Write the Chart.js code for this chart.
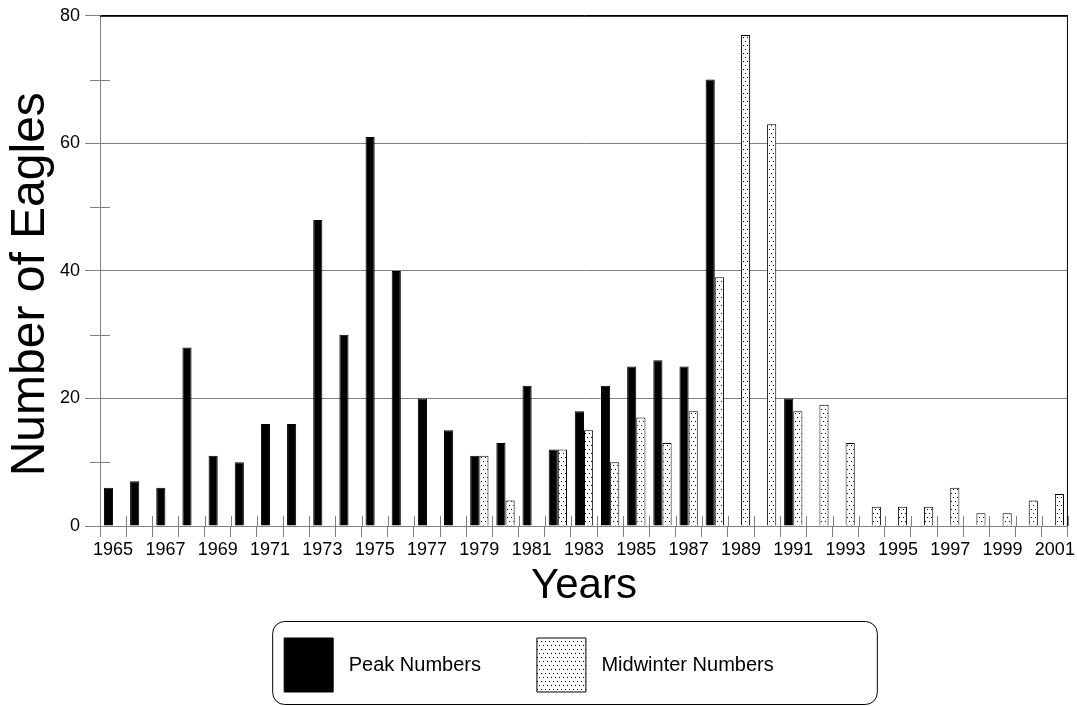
<!DOCTYPE html>
<html><head><meta charset="utf-8">
<script src="https://cdn.jsdelivr.net/npm/chart.js@4/dist/chart.umd.min.js"></script>
<style>html,body{margin:0;padding:0;background:#fff}canvas{display:block}</style>
</head><body>
<canvas id="c" width="1077" height="706"></canvas>
<script>
const years = ['1965','1966','1967','1968','1969','1970','1971','1972','1973','1974','1975','1976','1977','1978','1979','1980','1981','1982','1983','1984','1985','1986','1987','1988','1989','1990','1991','1992','1993','1994','1995','1996','1997','1998','1999','2000','2001'];
const peakNumbers = [6,7,6,28,11,10,16,16,48,30,61,40,20,15,11,13,22,12,18,22,25,26,25,70,null,null,20,null,null,null,null,null,null,null,null,null,null];
const midwinterNumbers = [null,null,null,null,null,null,null,null,null,null,null,null,null,null,11,4,null,12,15,10,17,13,18,39,77,63,18,19,13,3,3,3,6,2,2,4,5];
const seriesNames = ['Peak Numbers','Midwinter Numbers'];
const yLabeledTicks = [0,20,40,60,80];

const canvas = document.getElementById('c');
const mainCtx = canvas.getContext('2d');
function dotPattern(){
  const t = document.createElement('canvas'); t.width = 4; t.height = 8;
  const g = t.getContext('2d');
  g.fillStyle = '#fff'; g.fillRect(0,0,4,8);
  g.fillStyle = '#000'; g.fillRect(1,1,1,1); g.fillRect(3,5,1,1);
  return mainCtx.createPattern(t,'repeat');
}
const dots = dotPattern();
const GRID = '#808080';
const FONT = '"Liberation Sans", Arial, Helvetica, sans-serif';
Chart.defaults.font.family = FONT;

const decor = {
  id: 'decor',
  afterDraw(chart){
    const {ctx, chartArea: a, scales: {x, y}} = chart;
    ctx.save();
    ctx.lineWidth = 1;
    ctx.strokeStyle = GRID;
    ctx.beginPath();
    for (let v = 10; v < 80; v += 20){
      const py = Math.round(y.getPixelForValue(v)) + 0.5;
      ctx.moveTo(a.left - 10, py); ctx.lineTo(a.left + 10, py);
    }
    for (let i = 0; i <= years.length; i++){
      const px = Math.round(x.getPixelForValue(i - 0.5)) + 0.5;
      ctx.moveTo(px, a.bottom - 10); ctx.lineTo(px, a.bottom);
    }
    ctx.stroke();
    ctx.strokeStyle = '#000';
    ctx.beginPath();
    ctx.moveTo(a.left, a.top + 0.5); ctx.lineTo(a.right, a.top + 0.5);
    ctx.moveTo(a.right - 0.5, a.top); ctx.lineTo(a.right - 0.5, a.bottom);
    ctx.stroke();
    const lg = chart.legend;
    if (lg && lg.legendHitBoxes && lg.legendHitBoxes.length){
      const hb = lg.legendHitBoxes;
      const l = hb[0].left - 12 + 0.5;
      const r = hb[hb.length-1].left + hb[hb.length-1].width + 92 + 0.5;
      const t = lg.top + 0.5, b = lg.bottom + 2.5;
      ctx.strokeStyle = '#000';
      ctx.beginPath();
      ctx.roundRect(l, t, r - l, b - t, 12);
      ctx.stroke();
    }
    ctx.restore();
  }
};

new Chart(canvas, {
  type: 'bar',
  data: {
    labels: years,
    datasets: [
      {label: seriesNames[0], data: peakNumbers, backgroundColor: '#000', borderColor: '#000', borderWidth: 1},
      {label: seriesNames[1], data: midwinterNumbers, backgroundColor: dots, borderColor: '#000', borderWidth: 1}
    ]
  },
  options: {
    responsive: false,
    animation: false,
    devicePixelRatio: 1,
    datasets: {bar: {categoryPercentage: 0.7, barPercentage: 1.0}},
    layout: {padding: {top: 15, right: 8, bottom: 4, left: 0}},
    plugins: {
      tooltip: {enabled: false},
      legend: {
        position: 'bottom',
        labels: {
          boxWidth: 49, boxHeight: 54, padding: 17, color: '#000',
          font: {size: 20},
          generateLabels(chart){
            const items = Chart.defaults.plugins.legend.labels.generateLabels(chart);
            const trail = [7, 2];
            items.forEach((it, i) => { it.text = ' ' + seriesNames[i] + ' '.repeat(trail[i]); });
            return items;
          }
        }
      }
    },
    scales: {
      x: {
        grid: {offset: true, drawOnChartArea: false, color: GRID, tickLength: 11, tickColor: GRID},
        border: {display: true, color: GRID},
        ticks: {
          autoSkip: false, maxRotation: 0, minRotation: 0, padding: 2, color: '#000',
          font: {size: 18},
          callback(v, i){ return i % 2 === 0 ? this.getLabelForValue(v) : ''; }
        },
        title: {display: true, text: 'Years', color: '#000', font: {size: 42}, padding: {top: 0, bottom: 9}},
        afterFit(s){ s.height = 95; }
      },
      y: {
        min: 0, max: 80,
        ticks: {
          stepSize: 10, padding: 5, color: '#000', font: {size: 18},
          callback(v){ return yLabeledTicks.includes(v) ? String(v) : ''; }
        },
        grid: {
          color(c){ const v = c.tick ? c.tick.value : 0; if (v === 80) return '#000'; return yLabeledTicks.includes(v) ? GRID : 'rgba(0,0,0,0)'; },
          tickLength: 15,
          tickColor(c){ const v = c.tick ? c.tick.value : 0; return yLabeledTicks.includes(v) ? GRID : 'rgba(0,0,0,0)'; }
        },
        border: {display: true, color: GRID},
        title: {display: true, text: 'Number of Eagles  ', color: '#000', font: {size: 48}, padding: {top: 2, bottom: 0}},
        afterFit(s){ s.width = 100; }
      }
    }
  },
  plugins: [decor]
});
</script>
</body></html>
